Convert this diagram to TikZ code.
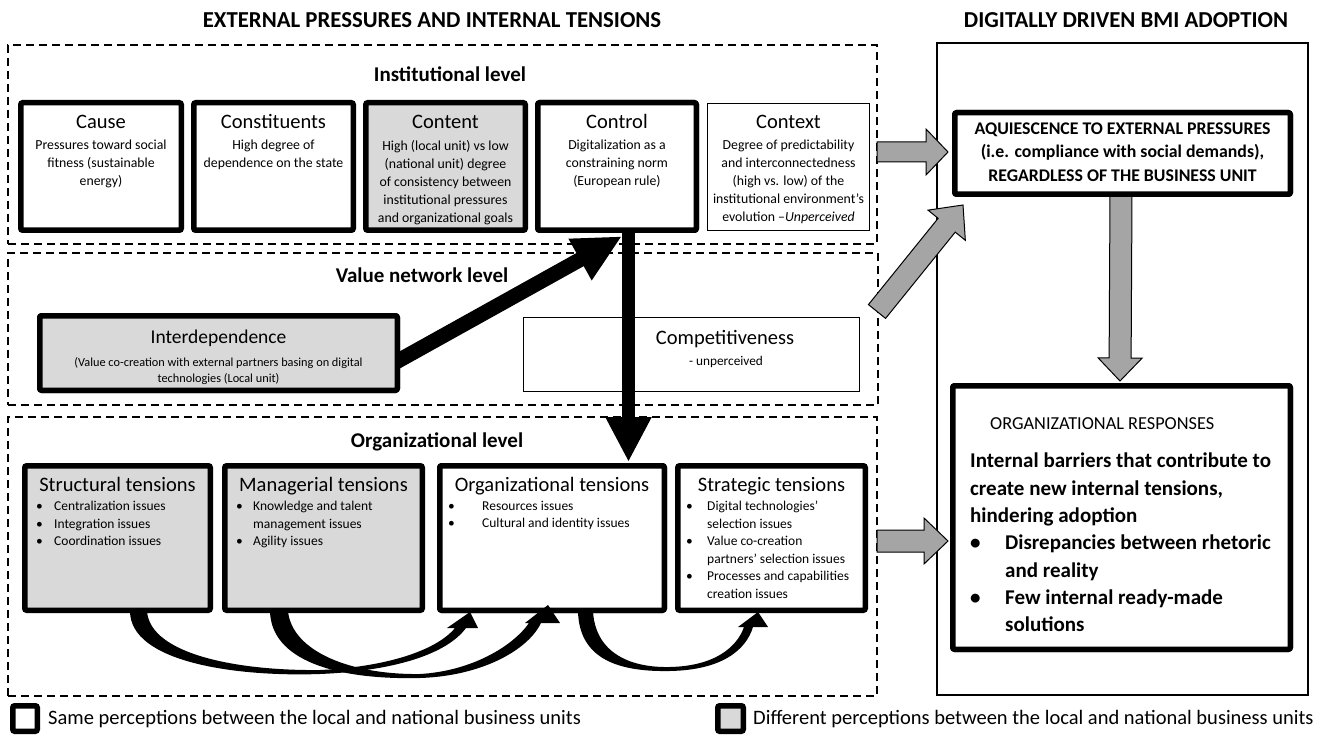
\documentclass[tikz,border=0pt]{standalone}
\usepackage{fontspec}
\setmainfont{Carlito}
\usetikzlibrary{arrows.meta,calc}
\definecolor{boxgrey}{HTML}{D9D9D9}
\definecolor{arrgrey}{HTML}{A5A5A5}
\newcommand{\fsz}[2]{\fontsize{#1}{#2}\selectfont}
\newcommand{\bi}[1]{\makebox[#1][l]{•}}
\newcommand{\bs}[1]{\hspace*{#1}}
\newcommand{\blockarr}[5]{%
  \coordinate (bactmp) at ($(#2)!#5!(#1)$);
  \draw[garrow] ($(#1)!#3!90:(#2)$) -- ($(bactmp)!#3!-90:(#1)$) -- ($(bactmp)!#4!-90:(#1)$) -- (#2) -- ($(bactmp)!#4!90:(#1)$) -- ($(bactmp)!#3!90:(#1)$) -- ($(#1)!#3!-90:(#2)$) -- cycle;}
\tikzset{
  thickbox/.style={draw=black, line width=5.5pt, rounded corners=2pt, fill=white, anchor=north west, inner sep=0pt, outer sep=0pt},
  greybox/.style={thickbox, fill=boxgrey},
  thinbox/.style={draw=black, line width=1.2pt, fill=white, anchor=north west, inner sep=0pt, outer sep=0pt},
  dashbox/.style={draw=black, line width=1.2pt, dash pattern=on 8pt off 5pt, anchor=north west, inner sep=0pt, outer sep=0pt},
  garrow/.style={draw=black, line width=1pt, fill=arrgrey, line join=miter},
  maintitle/.style={font=\bfseries\fsz{22.8}{26}, anchor=base, inner sep=0pt},
  lvl/.style={font=\bfseries\fsz{21}{24}, anchor=base, inner sep=0pt},
  ttl/.style={font=\fsz{20.5}{24}, anchor=base, inner sep=0pt},
  body/.style={font=\fsz{13.8}{18}, align=center, anchor=north, inner sep=0pt},
  bul/.style={font=\fsz{13.5}{17.5}, align=left, anchor=north west, inner sep=0pt},
  legtxt/.style={font=\fsz{20.5}{24}, anchor=base west, inner sep=0pt},
}
\begin{document}
\begin{tikzpicture}[x=1pt,y=-1pt]
\useasboundingbox (0,0) rectangle (1328,738);
\fill[white] (0,0) rectangle (1328,738);

% titles
\node[maintitle] (t1) at (432,27.5) {EXTERNAL PRESSURES AND INTERNAL TENSIONS};
\node[maintitle] (t2) at (1126,27.5) {DIGITALLY DRIVEN BMI ADOPTION};

% containers
\node[dashbox, minimum width=869pt, minimum height=199pt] (inst) at (8,45) {};
\node[dashbox, minimum width=870pt, minimum height=152pt] (vnet) at (8,253) {};
\node[dashbox, minimum width=869pt, minimum height=279pt] (orgl) at (8,417) {};
\node[thinbox, fill=none, minimum width=371pt, minimum height=652pt] (panel) at (937,43) {};

\node[lvl] (instL) at (450,82) {Institutional level};
\node[lvl] (vnetL) at (422,282) {Value network level};
\node[lvl] (orglL) at (437,447) {Organizational level};

% competitiveness (under the black arrow)
\node[thinbox, minimum width=335.8pt, minimum height=73.8pt] (compet) at (523.6,317.6) {};

% named boxes needed by connectors
\node[thickbox, minimum width=158.5pt, minimum height=127.5pt] (ctrl) at (537.75,102.75) {};
\node[greybox, minimum width=357.5pt, minimum height=74.5pt] (interd) at (39.75,315.75) {};
\node[thickbox, minimum width=224.5pt, minimum height=144.5pt] (orgt) at (439.75,465.75) {};
\node[thickbox, minimum width=335.5pt, minimum height=81.5pt] (aqui) at (954.75,112.75) {};
\node[thickbox, minimum width=337.5pt, minimum height=263.5pt] (resp) at (952.75,385.75) {};

% grey block arrows
\coordinate (g1s) at ($(inst.north east)+(0,107)$);
\coordinate (g1e) at ($(aqui.west)+(-6.75,-1.5)$);
\blockarr{g1s}{g1e}{10pt}{23pt}{22pt}
\coordinate (g2s) at ($(vnet.north east)+(-1,58.5)$);
\coordinate (g2e) at ($(aqui.south west)+(8.25,10.75)$);
\blockarr{g2s}{g2e}{11pt}{24pt}{26pt}
\coordinate (g3s) at ($(aqui.south)+(-1.5,0)$);
\coordinate (g3e) at ($(resp.north)+(-1.5,-4.75)$);
\blockarr{g3s}{g3e}{11pt}{22pt}{23pt}
\coordinate (g4s) at ($(orgl.north east)+(0,124)$);
\coordinate (g4e) at ($(resp.west)+(-4.75,23.5)$);
\blockarr{g4s}{g4e}{11pt}{23pt}{24pt}

% black arrows
\draw[line width=13pt, -{Triangle[width=43pt,length=45pt]}] ($(ctrl.south)+(11.5,0)$) -- ($(orgt.north -| ctrl.south)+(11.5,-3.75)$);
\draw[line width=15pt, -{Triangle[width=44pt,length=48pt]}] ($(interd.east)+(-3,10)$) -- ($(ctrl.south)+(5,6)$);

% redraw boxes over arrow starts
\node[thickbox, minimum width=158.5pt, minimum height=127.5pt] (ctrlB) at (537.75,102.75) {};
\node[greybox, minimum width=357.5pt, minimum height=74.5pt] (interdB) at (39.75,315.75) {};
\node[thickbox, minimum width=335.5pt, minimum height=81.5pt] (aquiB) at (954.75,112.75) {};
\node[thickbox, minimum width=337.5pt, minimum height=263.5pt] (respB) at (952.75,385.75) {};

% institutional boxes
\node[thickbox, minimum width=160.5pt, minimum height=127.5pt] (cause) at (20.75,102.75) {};
\node[thickbox, minimum width=159.5pt, minimum height=127.5pt] (const) at (193.75,102.75) {};
\node[greybox, minimum width=159.5pt, minimum height=127.5pt] (cont) at (365.75,102.75) {};
\node[thinbox, minimum width=161.8pt, minimum height=126.8pt] (ctx) at (707.6,103.6) {};

% organizational boxes
\node[greybox, minimum width=185.5pt, minimum height=144.5pt] (struct) at (24.75,465.75) {};
\node[greybox, minimum width=197.5pt, minimum height=144.5pt] (manag) at (224.75,465.75) {};
\node[thickbox, minimum width=224.5pt, minimum height=144.5pt] (orgtB) at (439.75,465.75) {};
\node[thickbox, minimum width=187.5pt, minimum height=144.5pt] (strat) at (677.75,465.75) {};

% institutional texts
\node[ttl] (causeT) at (101,129) {Cause};
\node[body] (causeX) at (101,140) {Pressures toward social\\fitness (sustainable\\energy)};
\node[ttl] (constT) at (273.5,129) {Constituents};
\node[body] (constX) at (273.5,140) {High degree of\\dependence on the state};
\node[ttl] (contT) at (445.5,129) {Content};
\node[body] (contX) at (445.5,140) {High (local unit) vs low\\(national unit) degree\\of consistency between\\institutional pressures\\and organizational goals};
\node[ttl] (ctrlT) at (617,129) {Control};
\node[body] (ctrlX) at (617,140) {Digitalization as a\\constraining norm\\(European rule)};
\node[ttl] (ctxT) at (788.5,129) {Context};
\node[body] (ctxX) at (788.5,140) {Degree of predictability\\and interconnectedness\\(high vs. low) of the\\institutional environment’s\\evolution –\textit{Unperceived}};

% value network texts
\node[ttl, font=\fsz{19.5}{23}] (interdT) at (218.5,343.5) {Interdependence};
\node[body, font=\fsz{12.3}{16}] (interdX) at (218.5,357) {(Value co-creation with external partners basing on digital\\technologies (Local unit)};
\node[ttl] (competT) at (725,344) {Competitiveness};
\node[ttl, font=\fsz{13.3}{16}] (competX) at (726,365.5) {- unperceived};

% organizational texts
\node[ttl] (structT) at (117.5,491.5) {Structural tensions};
\node[bul] (structX) at (36,501) {\bi{18pt}Centralization issues\\\bi{18pt}Integration issues\\\bi{18pt}Coordination issues};
\node[ttl] (managT) at (323.5,491.5) {Managerial tensions};
\node[bul] (managX) at (236,501) {\bi{17pt}Knowledge and talent\\\bs{17pt}management issues\\\bi{17pt}Agility issues};
\node[ttl] (orgtT) at (552,491.5) {Organizational tensions};
\node[bul] (orgtX) at (448,501) {\bi{34pt}Resources issues\\\bi{34pt}Cultural and identity issues};
\node[ttl] (stratT) at (771.5,491.5) {Strategic tensions};
\node[bul] (stratX) at (686,501) {\bi{21pt}Digital technologies’\\\bs{21pt}selection issues\\\bi{21pt}Value co-creation\\\bs{21pt}partners’ selection issues\\\bi{21pt}Processes and capabilities\\\bs{21pt}creation issues};

% right panel texts
\node[font=\bfseries\fsz{17.8}{23.5}, align=center, anchor=north, inner sep=0pt] (aquiX) at (1122.5,122.5) {AQUIESCENCE TO EXTERNAL PRESSURES\\(i.e. compliance with social demands),\\REGARDLESS OF THE BUSINESS UNIT};
\node[font=\fsz{18.3}{22}, anchor=base west, inner sep=0pt] (respT) at (990,429) {ORGANIZATIONAL RESPONSES};
\node[font=\bfseries\fsz{21}{27.3}, align=left, anchor=north west, inner sep=0pt] (respX) at (970,453) {Internal barriers that contribute to\\create new internal tensions,\\hindering adoption\\\bi{35pt}Disrepancies between rhetoric\\\bs{35pt}and reality\\\bi{35pt}Few internal ready-made\\\bs{35pt}solutions};

% curved arrows between tensions
\fill[black] (130,611) .. controls (130,662) and (235,677) .. (320,674) .. controls (392,671) and (446,655) .. (466,628) -- (478,628) -- (470,612) -- (447,628) -- (455,628) .. controls (436,651) and (385,667) .. (320,670) .. controls (240,671) and (150,655) .. (147,611) -- cycle;
\fill[black] (270,611) .. controls (271,660) and (335,680) .. (420,678) .. controls (482,676) and (528,650) .. (541,623) -- (560,623) -- (548,605) -- (525,623) -- (529,623) .. controls (513,646) and (472,671) .. (420,674) .. controls (352,675) and (292,652) .. (288,611) -- cycle;
\fill[black] (578,611) .. controls (579,660) and (620,672) .. (670,671) .. controls (722,670) and (746,650) .. (753,627) -- (768,627) -- (758,612) -- (738,627) -- (744,627) .. controls (737,647) and (715,666) .. (670,667) .. controls (626,668) and (595,650) .. (593,611) -- cycle;

% legend
\node[thickbox, minimum width=24.5pt, minimum height=25.5pt] (legS) at (12.75,705.75) {};
\node[legtxt] (legST) at (48,724.5) {Same perceptions between the local and national business units};
\node[greybox, minimum width=25.5pt, minimum height=25.5pt] (legD) at (717.75,705.75) {};
\node[legtxt] (legDT) at (753,724.5) {Different perceptions between the local and national business units};
\end{tikzpicture}
\end{document}
